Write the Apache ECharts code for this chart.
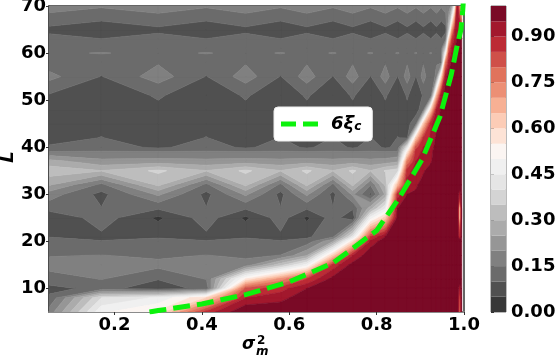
<!DOCTYPE html>
<html>
<head>
<meta charset="utf-8">
<style>html,body{margin:0;padding:0;background:#fff}#container{width:556px;height:356px}</style>
<script src="https://cdn.jsdelivr.net/npm/echarts@6/dist/echarts.min.js"></script>
</head>
<body>
<div id="container"></div>
<script>
var sigmaValues = [.05,.17,.30,.41,.50,.58,.64,.70,.745,.786,.82,.848,.87,.89,.907,.924,.937,.948,.958,.966,.973,.98,.985,.99,.995];
var lengthValues = [5,8,10,12,15,17,20,21,25,27,30,32,35,37,39,40,42,45,48,51,55,58,60,61,63,65,70];

var row5  = [.17,.49,.56,.87,1,1,1,1,1,1,1,1,1,1,1,1,1,1,1,1,1,1,1,.75,1];
var row8  = [.11,.40,.46,.60,.90,.93,.99,1,1,1,1,1,1,1,1,1,1,1,1,1,1,1,1,.8,1];
var row10 = [.085,.115,.075,.115,.82,.88,.95,1,1,1,1,1,1,1,1,1,1,1,1,1,1,1,1,.9,1];
var row12 = [.125,.152,.102,.152,.55,.72,.85,.97,1,1,1,1,1,1,1,1,1,1,1,1,1,1,1,1,1];
var row15 = [.17,.185,.165,.185,.17,.33,.47,.87,.97,1,1,1,1,1,1,1,1,1,1,1,1,1,1,1,1];
var row17 = [.147,.152,.14,.152,.14,.152,.25,.62,.90,.99,1,1,1,1,1,1,1,1,1,1,1,1,1,1,1];
var row20 = [.12,.102,.125,.102,.125,.102,.12,.25,.58,.92,.98,1,1,1,1,1,1,1,1,1,1,1,1,1,1];
var row21 = [.098,.09,.09,.09,.09,.09,.09,.14,.42,.85,.95,.99,1,1,1,1,1,1,1,1,1,1,1,.85,1];
var row25 = [.055,.125,.04,.125,.04,.125,.04,.125,.06,.47,.62,.97,1,1,1,1,1,1,1,1,1,1,1,.55,1];
var row27 = [.12,.102,.105,.102,.105,.102,.105,.102,.105,.28,.45,.95,.98,1,1,1,1,1,1,1,1,1,1,.55,1];
var row30 = [.175,.085,.21,.085,.21,.085,.21,.085,.21,.09,.26,.88,.95,.96,1,1,1,1,1,1,1,1,1,.9,1];
var row32 = [.255,.135,.31,.135,.31,.135,.31,.135,.31,.152,.31,.65,.92,.94,.98,1,1,1,1,1,1,1,1,1,1];
var row35 = [.33,.302,.36,.302,.36,.302,.36,.302,.36,.302,.355,.38,.88,.92,.94,.99,1,1,1,1,1,1,1,1,1];
var row37 = [.27,.215,.22,.215,.22,.215,.22,.215,.22,.215,.22,.24,.75,.90,.92,.94,1,1,1,1,1,1,1,1,1];
var row39 = [.155,.155,.155,.155,.155,.155,.155,.155,.155,.155,.155,.155,.55,.88,.91,.93,.99,1,1,1,1,1,1,1,1];
var row40 = [.105,.125,.09,.125,.09,.125,.09,.125,.09,.125,.09,.115,.42,.83,.90,.92,.98,1,1,1,1,1,1,1,1];
var row42 = [.085,.101,.08,.101,.08,.101,.08,.101,.08,.101,.08,.101,.095,.62,.86,.91,.96,1,1,1,1,1,1,1,1];
var row45 = [.09,.09,.085,.09,.085,.09,.085,.09,.085,.09,.085,.09,.085,.13,.62,.89,.93,.98,1,1,1,1,1,1,1];
var row48 = [.09,.08,.09,.08,.09,.08,.09,.08,.09,.08,.09,.08,.09,.08,.13,.60,.90,.96,1,1,1,1,1,1,1];
var row51 = [.095,.07,.105,.07,.105,.07,.105,.07,.105,.07,.105,.07,.105,.07,.105,.105,.65,.93,.98,1,1,1,1,1,1];
var row55 = [.165,.098,.175,.098,.175,.098,.175,.098,.175,.098,.175,.098,.175,.098,.175,.098,.17,.58,.93,.98,1,1,1,1,1];
var row58 = [.125,.12,.145,.12,.145,.12,.145,.12,.145,.12,.145,.12,.145,.12,.145,.12,.145,.13,.75,.92,.97,1,1,1,1];
var row60 = [.14,.153,.135,.153,.135,.153,.135,.153,.135,.153,.135,.153,.135,.153,.135,.153,.135,.145,.48,.85,.93,.98,1,1,1];
var row61 = [.13,.13,.13,.13,.13,.13,.13,.13,.13,.13,.13,.13,.13,.13,.13,.13,.13,.13,.35,.8,.91,.95,.98,1,1];
var row63 = [.115,.101,.115,.101,.115,.101,.115,.101,.115,.101,.115,.101,.115,.101,.115,.101,.115,.101,.13,.6,.85,.93,.96,.98,.95];
var row65 = [.088,.068,.09,.068,.09,.068,.09,.068,.09,.068,.09,.068,.09,.068,.09,.068,.09,.068,.085,.35,.7,.90,.93,.95,.88];
var row70 = [.175,.157,.177,.157,.177,.157,.177,.157,.177,.157,.177,.157,.177,.157,.177,.157,.177,.157,.177,.16,.25,.55,.92,.72,.55];
var valueRows = [row5,row8,row10,row12,row15,row17,row20,row21,row25,row27,row30,row32,row35,row37,row39,row40,row42,row45,row48,row51,row55,row58,row60,row61,row63,row65,row70];

var levels = [0,.05,.10,.15,.20,.25,.30,.35,.40,.45,.50,.55,.60,.65,.70,.75,.80,.85,.90,.95,1];
var bandColors = ['#383838','#505050','#6b6b6b','#808080','#969696','#ababab','#bdbdbd','#d4d4d4','#e5e5e5','#f0f0f0','#fbf5f2','#fde3d6','#fcccb6','#f7b094','#ec8f75','#e0735c','#cf5049','#bc2b35','#a2182d','#7a0a26'];

var curveSigma = [.28,.30,.40,.50,.60,.70,.80,.85,.904,.945,.971,.983,.993,.997,1];
var curveLength = [5,5.3,6.7,8.7,11.4,15.4,22.3,29,37.4,46.5,55.5,61,65,69,73];

var xTicks = [.2,.4,.6,.8,1];
var yTicks = [10,20,30,40,50,60,70];
var barTicks = [0,.15,.30,.45,.60,.75,.90];

var fontName = '"DejaVu Sans"';
var lineGreen = '#0cf20c';
var tickFont = {fontFamily:fontName,fontWeight:'bold',fontSize:18,color:'#000'};

//keep the part of a polygon on one side of a value level
function clipPoly(poly,level,above){
	var out = [];
	for(var i=0;i<poly.length;i++){
		var a = poly[i];
		var b = poly[(i+1)%poly.length];
		var aIn = above ? a[2]>=level : a[2]<=level;
		var bIn = above ? b[2]>=level : b[2]<=level;
		if(aIn) out.push(a);
		if(aIn != bIn){
			var t = (level-a[2])/(b[2]-a[2]);
			out.push([a[0]+t*(b[0]-a[0]),a[1]+t*(b[1]-a[1]),level]);
		}
	}
	return out;
}

//filled contour polygons per band, cut from each grid quad
function buildBands(){
	var bands = [];
	for(var k=0;k<bandColors.length;k++) bands.push([]);
	for(var r=0;r<lengthValues.length-1;r++){
		for(var c=0;c<sigmaValues.length-1;c++){
			var quad = [
				[sigmaValues[c],lengthValues[r],valueRows[r][c]],
				[sigmaValues[c+1],lengthValues[r],valueRows[r][c+1]],
				[sigmaValues[c+1],lengthValues[r+1],valueRows[r+1][c+1]],
				[sigmaValues[c],lengthValues[r+1],valueRows[r+1][c]]
			];
			for(var b=0;b<bandColors.length;b++){
				var poly = clipPoly(quad,levels[b],true);
				if(poly.length) poly = clipPoly(poly,levels[b+1],false);
				if(poly.length>2) bands[b].push(poly);
			}
		}
	}
	return bands;
}
var bandPolys = buildBands();

//one path per band so the quads inside a band show no seams
function renderBand(params,api){
	var b = api.value(0);
	if(!bandPolys[b].length) return null;
	var d = '';
	var minX = Infinity, minY = Infinity, maxX = -Infinity, maxY = -Infinity;
	for(var i=0;i<bandPolys[b].length;i++){
		for(var j=0;j<bandPolys[b][i].length;j++){
			var pt = api.coord([bandPolys[b][i][j][0],bandPolys[b][i][j][1]]);
			d += (j==0?'M':'L')+pt[0].toFixed(2)+' '+pt[1].toFixed(2);
			minX = Math.min(minX,pt[0]); maxX = Math.max(maxX,pt[0]);
			minY = Math.min(minY,pt[1]); maxY = Math.max(maxY,pt[1]);
		}
		d += 'Z';
	}
	return {
		type:'path',
		shape:{pathData:d,layout:'cover',x:minX,y:minY,width:maxX-minX,height:maxY-minY},
		style:{fill:bandColors[b],stroke:bandColors[b],lineWidth:.6}
	};
}

function renderBarCell(params,api){
	var b = api.value(0);
	var p0 = api.coord([0,levels[b]]);
	var p1 = api.coord([1,levels[b+1]]);
	return {type:'rect',shape:{x:p0[0],y:p1[1],width:p1[0]-p0[0],height:p0[1]-p1[1]},style:{fill:bandColors[b]}};
}

var bandIndex = [];
for(var i=0;i<bandColors.length;i++) bandIndex.push([i]);
var curveData = [];
for(var i=0;i<curveSigma.length;i++) curveData.push([curveSigma[i],curveLength[i]]);

var option = {
	animation:false,
	grid:[
		{left:49,right:92,top:6,bottom:44,outerBoundsMode:'none',show:true,borderColor:'#333',borderWidth:1.5},
		{left:491,right:50,top:6,bottom:44,outerBoundsMode:'none',show:true,borderColor:'#777',borderWidth:1}
	],
	xAxis:[
		{type:'value',gridIndex:0,min:.05,max:1,splitLine:{show:false},
			axisLine:{show:true,lineStyle:{color:'#999',width:1.5}},
			axisTick:{show:true,length:3,customValues:xTicks,lineStyle:{color:'#333'}},
			axisLabel:Object.assign({customValues:xTicks,margin:4,formatter:function(v){return v.toFixed(1);}},tickFont)},
		{type:'value',gridIndex:1,min:0,max:1,show:false}
	],
	yAxis:[
		{type:'value',gridIndex:0,min:5,max:70,splitLine:{show:false},
			axisLine:{show:true,lineStyle:{color:'#444',width:1.5}},
			axisTick:{show:true,length:3,customValues:yTicks,lineStyle:{color:'#333'}},
			axisLabel:Object.assign({customValues:yTicks,margin:3,padding:[8,0,0,0]},tickFont)},
		{type:'value',gridIndex:1,min:0,max:1,position:'right',splitLine:{show:false},
			axisLine:{show:false},
			axisTick:{show:true,length:3,customValues:barTicks,lineStyle:{color:'#333'}},
			axisLabel:Object.assign({customValues:barTicks,margin:5,padding:[8,0,0,0],formatter:function(v){return v.toFixed(2);}},tickFont)}
	],
	legend:{
		left:274,top:107,padding:[8,11,8,7],itemWidth:37,itemHeight:5,itemGap:0,
		backgroundColor:'#fff',borderRadius:4,borderColor:'#eee',borderWidth:1,
		icon:'path://M0 0H15V5H0Z M22 0H37V5H22Z',
		itemStyle:{color:lineGreen,borderWidth:0},
		data:['6ξc'],
		formatter:function(){return '{a|6ξ}{b|c}';},
		textStyle:{rich:{
			a:{fontFamily:fontName,fontWeight:'bold',fontStyle:'italic',fontSize:18,color:'#000',padding:[0,0,0,8]},
			b:{fontFamily:fontName,fontWeight:'bold',fontStyle:'italic',fontSize:12,color:'#000',verticalAlign:'bottom',padding:[6,0,0,0]}
		}}
	},
	series:[
		{type:'custom',name:'contour',xAxisIndex:0,yAxisIndex:0,renderItem:renderBand,data:bandIndex,silent:true,z:2,clip:true},
		{type:'custom',name:'colorbar',xAxisIndex:1,yAxisIndex:1,renderItem:renderBarCell,data:bandIndex,silent:true,z:2},
		{type:'line',name:'6ξc',xAxisIndex:0,yAxisIndex:0,data:curveData,showSymbol:false,symbol:'none',z:4,
			lineStyle:{color:lineGreen,width:5,type:[17,7]}}
	],
	graphic:[
		{type:'text',x:8,y:157,rotation:Math.PI/2,style:{text:'L',fontFamily:fontName,fontWeight:'bold',fontStyle:'italic',fontSize:18,fill:'#000',align:'center',verticalAlign:'middle'}},
		{type:'text',left:242,top:336,style:{text:'σ',fontFamily:fontName,fontWeight:'bold',fontStyle:'italic',fontSize:17,fill:'#000'}},
		{type:'text',left:257,top:335,style:{text:'2',fontFamily:fontName,fontWeight:'bold',fontSize:12,fill:'#000'}},
		{type:'text',left:256,top:346,style:{text:'m',fontFamily:fontName,fontWeight:'bold',fontStyle:'italic',fontSize:12,fill:'#000'}}
	]
};
var myChart = echarts.init(document.getElementById('container'),null,{renderer:'canvas'});
myChart.setOption(option,true);
</script>
</body>
</html>
